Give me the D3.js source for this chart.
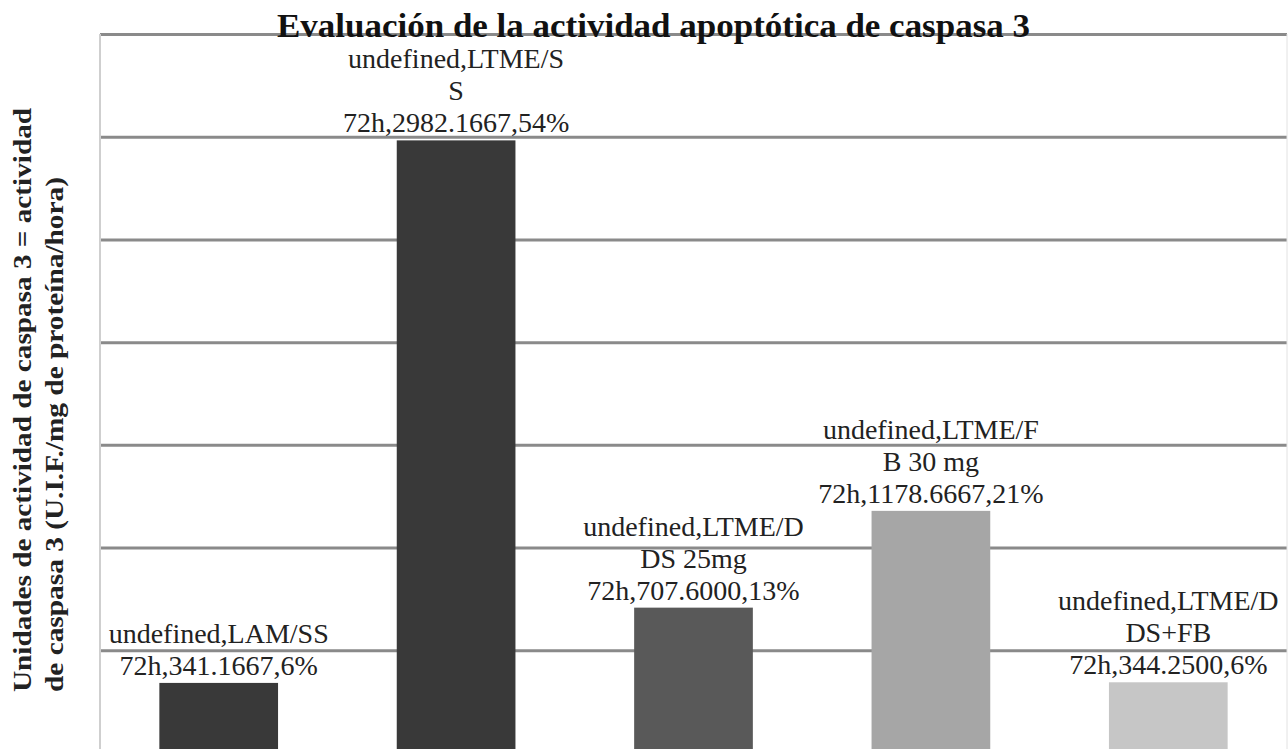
<!DOCTYPE html>
<html>
<head>
<meta charset="utf-8">
<script src="https://cdn.jsdelivr.net/npm/d3@7"></script>
<style>
  body { margin: 0; background: #fff; }
  svg { display: block; }
</style>
</head>
<body>
<script>
// data
const categories = ["LAM/SS", "LTME/SS", "LTME/DDS 25mg", "LTME/FB 30 mg", "LTME/DDS+FB"];
// how the category name wraps inside each label
const categoryLines = [["LAM/SS"], ["LTME/S", "S"], ["LTME/D", "DS 25mg"], ["LTME/F", "B 30 mg"], ["LTME/D", "DS+FB"]];
const values = [341.1667, 2982.1667, 707.6, 1178.6667, 344.25];
const percents = [6, 54, 13, 21, 6];
const seriesName = "72h";
const yTicks = [0, 500, 1000, 1500, 2000, 2500, 3000, 3500];

const svgWidth = 1288;
const svgHeight = 749;
const plot = { left: 100, right: 1287, top: 34, bottom: 753 };

const svg = d3
	.select("body")
	.append("svg")
	.attr("width", svgWidth)
	.attr("height", svgHeight);

//scales
const xScale = d3
	.scaleBand()
	.domain(categories)
	.range([plot.left, plot.right])
	.paddingInner(0.5)
	.paddingOuter(0.25);

const yScale = d3
	.scaleLinear()
	.domain([0, 3500])
	.range([plot.bottom, plot.top]);

const color = d3
	.scaleOrdinal()
	.domain(categories)
	.range(["#393939", "#393939", "#595959", "#a6a6a6", "#c6c6c6"]);

//gridlines
svg
	.append("g")
	.attr("class", "grid")
	.attr("transform", `translate(${plot.left},0)`)
	.call(
		d3.axisLeft(yScale)
			.tickValues(yTicks)
			.tickSize(-(plot.right - plot.left))
			.tickFormat("")
	)
	.call((g) => g.select(".domain").remove())
	.call((g) => g.selectAll(".tick line").attr("stroke", "#8a8a8a").attr("stroke-width", 3));

//left and right edges
svg
	.append("line")
	.attr("x1", plot.left).attr("x2", plot.left)
	.attr("y1", plot.top).attr("y2", svgHeight)
	.attr("stroke", "#cfcfcf")
	.attr("stroke-width", 2);
svg
	.append("line")
	.attr("x1", plot.right).attr("x2", plot.right)
	.attr("y1", plot.top).attr("y2", svgHeight)
	.attr("stroke", "#e2e2e2")
	.attr("stroke-width", 1);

//bars
svg
	.selectAll(".bar")
	.data(categories)
	.enter()
	.append("rect")
	.attr("class", "bar")
	.attr("x", (d) => xScale(d))
	.attr("y", (d, i) => yScale(values[i]))
	.attr("width", xScale.bandwidth())
	.attr("height", (d, i) => yScale(0) - yScale(values[i]))
	.attr("fill", (d) => color(d));

//data labels
const lineStep = 32;
const labels = svg
	.selectAll(".label")
	.data(categories)
	.enter()
	.append("text")
	.attr("class", "label")
	.attr("text-anchor", "middle")
	.attr("font-family", "'Liberation Serif', 'Times New Roman', serif")
	.attr("font-size", 28)
	.attr("fill", "#222");

labels.each(function (d, i) {
	const parts = categoryLines[i];
	const lines = ["undefined," + parts[0]]
		.concat(parts.slice(1))
		.concat([`${seriesName},${values[i].toFixed(4)},${percents[i]}%`]);
	const cx = xScale(d) + xScale.bandwidth() / 2;
	const base = yScale(values[i]) - 8;
	d3.select(this)
		.selectAll("tspan")
		.data(lines)
		.enter()
		.append("tspan")
		.attr("x", cx)
		.attr("y", (l, j) => base - (lines.length - 1 - j) * lineStep)
		.text((l) => l);
});

//title
svg
	.append("text")
	.attr("x", 277)
	.attr("y", 37)
	.attr("font-family", "'Liberation Serif', 'Times New Roman', serif")
	.attr("font-weight", "bold")
	.attr("font-size", 34)
	.attr("textLength", 753)
	.attr("lengthAdjust", "spacingAndGlyphs")
	.attr("fill", "#111")
	.text("Evaluación de la actividad apoptótica de caspasa 3");

//y-axis title
const yTitle = [
	{ text: "Unidades de actividad de caspasa 3 = actividad", x: 31, len: 584 },
	{ text: "de caspasa 3 (U.I.F./mg de proteína/hora)", x: 63, len: 515 }
];
svg
	.selectAll(".y-title")
	.data(yTitle)
	.enter()
	.append("text")
	.attr("class", "y-title")
	.attr("transform", (d) => `translate(${d.x},692) rotate(-90)`)
	.attr("font-family", "'Liberation Serif', 'Times New Roman', serif")
	.attr("font-weight", "bold")
	.attr("font-size", 25)
	.attr("textLength", (d) => d.len)
	.attr("lengthAdjust", "spacingAndGlyphs")
	.attr("fill", "#222")
	.text((d) => d.text);
</script>
</body>
</html>
